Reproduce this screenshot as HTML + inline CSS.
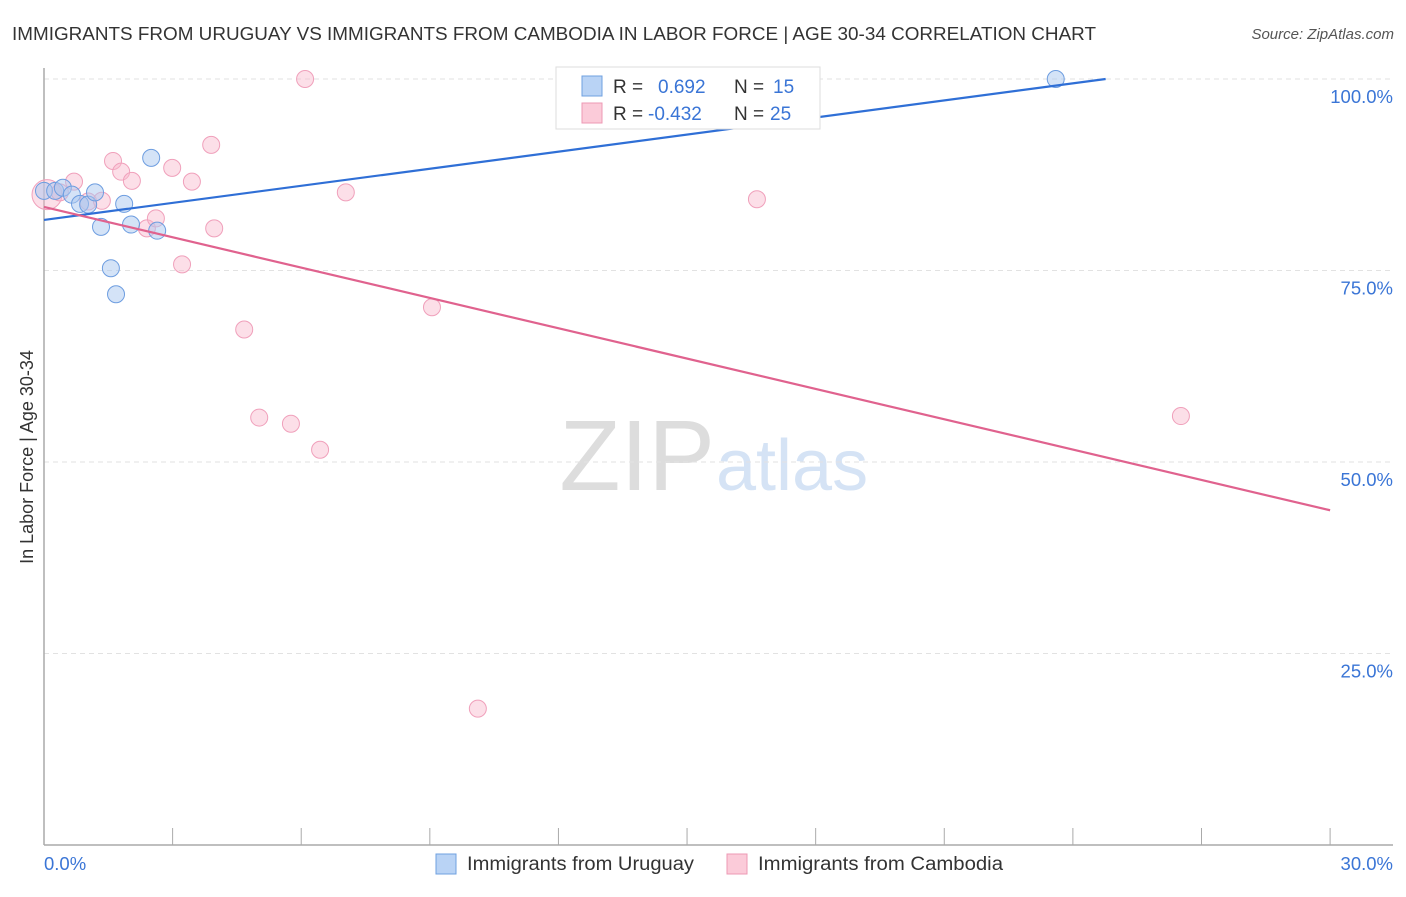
<!DOCTYPE html>
<html><head><meta charset="utf-8"><style>
body{margin:0;background:#fff;font-family:"Liberation Sans",sans-serif}
svg text{font-family:"Liberation Sans",sans-serif}
</style></head><body>
<svg id="c" width="1406" height="892" xmlns="http://www.w3.org/2000/svg">
<text x="12" y="40" font-size="18" fill="#333" textLength="1084" lengthAdjust="spacingAndGlyphs">IMMIGRANTS FROM URUGUAY VS IMMIGRANTS FROM CAMBODIA IN LABOR FORCE | AGE 30-34 CORRELATION CHART</text>
<text x="1394" y="39" font-size="15" fill="#555" font-style="italic" text-anchor="end">Source: ZipAtlas.com</text>
<text x="33" y="457" font-size="18" fill="#333" text-anchor="middle" transform="rotate(-90 33 457)">In Labor Force | Age 30-34</text>
<text x="715" y="490" font-size="100" fill="#ddd" text-anchor="end" font-family="Liberation Serif">ZIP</text>
<text x="716" y="490" font-size="72" fill="#d5e3f5">atlas</text>
<g id="grid"></g><g id="marks"></g>
<rect x="556" y="67" width="264" height="62" fill="#fff" stroke="#ddd"/>
<rect x="582" y="76" width="20" height="20" fill="#b9d3f5" stroke="#6fa0e0"/>
<rect x="582" y="103" width="20" height="20" fill="#fbcbd9" stroke="#ee98b4"/>
<text x="613" y="93" font-size="19" fill="#333">R = <tspan x="658" fill="#3a75d6">0.692</tspan><tspan x="734" fill="#333">N = </tspan><tspan x="773" fill="#3a75d6">15</tspan></text>
<text x="613" y="120" font-size="19" fill="#333">R = <tspan x="648" fill="#3a75d6">-0.432</tspan><tspan x="734" fill="#333">N = </tspan><tspan x="770" fill="#3a75d6">25</tspan></text>
<rect x="436" y="854" width="20" height="20" fill="#b9d3f5" stroke="#6fa0e0"/>
<text x="467" y="870" font-size="19" fill="#333" textLength="227" lengthAdjust="spacingAndGlyphs">Immigrants from Uruguay</text>
<rect x="727" y="854" width="20" height="20" fill="#fbcbd9" stroke="#ee98b4"/>
<text x="758" y="870" font-size="19" fill="#333" textLength="245" lengthAdjust="spacingAndGlyphs">Immigrants from Cambodia</text>
</svg>
<script>
const xTicks=[0,3,6,9,12,15,18,21,24,27,30];
const yTicks=[25,50,75,100];
const yTickLabels=["25.0%","50.0%","75.0%","100.0%"];
const xEndLabels=["0.0%","30.0%"];
const uruX=[0.0,0.26,0.44,0.65,0.84,1.03,1.19,1.33,1.56,1.68,1.87,2.03,2.5,2.64,23.6];
const uruY=[85.4,85.4,85.8,84.9,83.7,83.6,85.2,80.7,75.3,71.9,83.7,81.0,89.7,80.2,100];
const camX=[0.07,0.37,0.7,1.03,1.35,1.61,1.8,2.05,2.4,2.61,2.99,3.22,3.45,3.9,3.97,4.67,5.02,5.76,6.09,6.44,7.04,9.05,10.12,16.63,26.52];
const camY=[84.9,85.2,86.6,84.0,84.1,89.3,87.9,86.7,80.5,81.8,88.4,75.8,86.6,91.4,80.5,67.3,55.8,55.0,100,51.6,85.2,70.2,17.8,84.3,56.0];
const uruTrend=[81.6,0.743];
const camTrend=[83.3,-1.32];
const X=v=>44+v*42.87, Y=v=>845-v*7.66;
const NS="http://www.w3.org/2000/svg";
function mk(t,a,p){const e=document.createElementNS(NS,t);for(const k in a)e.setAttribute(k,a[k]);p.appendChild(e);return e;}
const g=document.getElementById('grid'),m=document.getElementById('marks');
yTicks.forEach((t,i)=>{
 const l=mk('line',{x1:44,x2:1393,y1:Y(t),y2:Y(t),stroke:'#e2e2e2','stroke-dasharray':'5,4'},g);
 
 
 const tx=mk('text',{x:1393,y:Y(t)+24,'font-size':18.5,fill:'#3a75d6','text-anchor':'end'},g);
 tx.textContent=yTickLabels[i];
 
 
});
const ya=mk('line',{x1:44,x2:44,y1:68,y2:845,stroke:'#aaa','stroke-width':1.5},g);


const xa=mk('line',{x1:44,x2:1393,y1:845,y2:845,stroke:'#aaa','stroke-width':1.5},g);


xTicks.forEach(t=>{
 const l=mk('line',{x1:X(t),x2:X(t),y1:828,y2:845,stroke:'#aaa'},g);
 
 
});
const xl0=mk('text',{x:44,y:870,'font-size':18.5,fill:'#3a75d6'},g);xl0.textContent=xEndLabels[0];


const xl1=mk('text',{x:1393,y:870,'font-size':18.5,fill:'#3a75d6','text-anchor':'end'},g);xl1.textContent=xEndLabels[1];


camX.forEach((x,i)=>{
 const c=mk('circle',{cx:X(x),cy:Y(camY[i]),r:i==0?15:8.5,fill:'rgba(248,185,205,0.45)',stroke:'#f0a0bb','stroke-width':1},m);
 
 
});
uruX.forEach((x,i)=>{
 const c=mk('circle',{cx:X(x),cy:Y(uruY[i]),r:8.5,fill:'rgba(170,200,240,0.5)',stroke:'#6d9de0','stroke-width':1},m);
 
 
});
const ux2=(100-uruTrend[0])/uruTrend[1];
const ul=mk('line',{x1:X(0),y1:Y(uruTrend[0]),x2:X(ux2),y2:Y(100),stroke:'#2f6fd6','stroke-width':2.2},m);


const cl=mk('line',{x1:X(0),y1:Y(camTrend[0]),x2:X(30),y2:Y(camTrend[0]+30*camTrend[1]),stroke:'#e0628e','stroke-width':2.2},m);


</script>
</body></html>
